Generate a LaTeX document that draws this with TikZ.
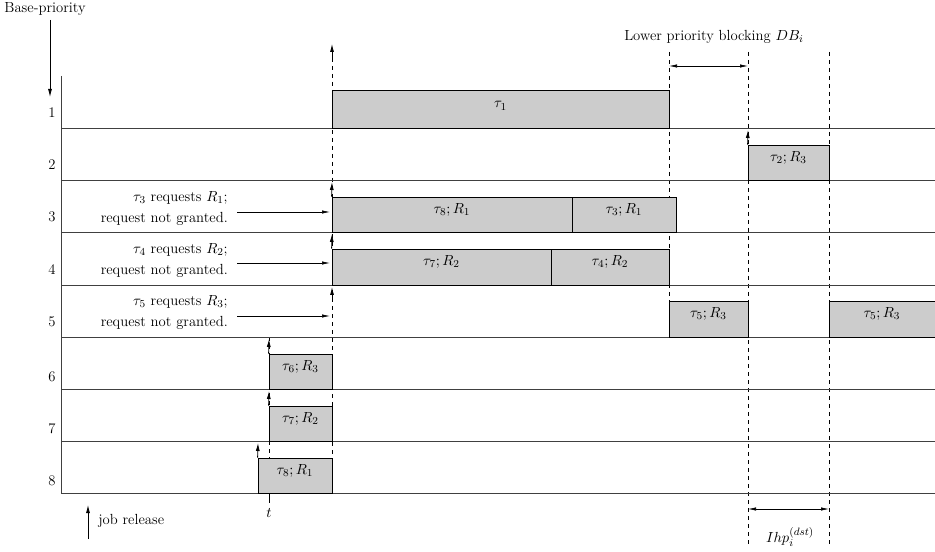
\documentclass[tikz,border=0pt]{standalone}
\usetikzlibrary{arrows.meta,fit}
\begin{document}
\begin{tikzpicture}[x=0.75pt,y=-0.75pt,
 every node/.style={font=\fontsize{11}{13}\selectfont},
 rowline/.style={black!75, line width=0.7pt},
 tbox/.style={draw=black, fill=gray!40, line width=0.6pt, inner sep=0pt},
 rel/.style={-{Latex[length=6pt,width=3pt]}, line width=0.6pt},
 dsh/.style={dash pattern=on 3pt off 3pt, line width=0.5pt},
 req/.style={-{Latex[length=6pt,width=2.5pt]}, line width=0.5pt},
 dbl/.style={{Latex[length=6pt,width=2.5pt]}-{Latex[length=6pt,width=2.5pt]}, line width=0.5pt},
 txt/.style={inner sep=0pt}]
\useasboundingbox (0,0) rectangle (935,552);

% dashed time markers
\coordinate (d1t) at (332,58);  \coordinate (d1b) at (332,493);
\coordinate (d2t) at (669,52);  \coordinate (d2b) at (669,337);
\coordinate (d3t) at (748,52);  \coordinate (d3b) at (748,545);
\coordinate (d4t) at (829,52);  \coordinate (d4b) at (829,545);
\coordinate (d5t) at (269,337); \coordinate (d5b) at (269,493);
\draw[dsh] (d1t) -- (d1b);
\draw[dsh] (d2t) -- (d2b);
\draw[dsh] (d3t) -- (d3b);
\draw[dsh] (d4t) -- (d4b);
\draw[dsh] (d5t) -- (d5b);

% axis and row lines
\draw[rowline] (61,76) -- (61,493);
\foreach \y in {128,180,232,285,337,389,441,493}
  \draw[rowline] (61,\y) -- (935,\y);

% row numbers
\foreach \n/\y in {1/113,2/165,3/217,4/270,5/322,6/377,7/429,8/481}
  \node[txt] (p\n) at (52,\y) {\n};

% boxes
\node[tbox, fit={(332,90)(669,128)}] (b1) {$\tau_1$};
\node[tbox, fit={(748,145)(829,180)}] (b2) {$\tau_2;R_3$};
\node[tbox, fit={(332,197)(572,232)}] (b3a) {$\tau_8;R_1$};
\node[tbox, fit={(572,197)(676,232)}] (b3b) {$\tau_3;R_1$};
\node[tbox, fit={(332,249)(551,285)}] (b4a) {$\tau_7;R_2$};
\node[tbox, fit={(551,249)(669,285)}] (b4b) {$\tau_4;R_2$};
\node[tbox, fit={(669,301)(748,337)}] (b5a) {$\tau_5;R_3$};
\node[tbox, fit={(829,301)(935,337)}] (b5b) {$\tau_5;R_3$};
\node[tbox, fit={(269,354)(332,389)}] (b6) {$\tau_6;R_3$};
\node[tbox, fit={(269,406)(332,441)}] (b7) {$\tau_7;R_2$};
\node[tbox, fit={(258,458)(332,493)}] (b8) {$\tau_8;R_1$};

% release arrows
\coordinate (r1) at (332,44);
\coordinate (r1s) at (332,62);
\draw[rel] (r1s) -- (r1);
\coordinate (r3) at (332,182); \draw[rel] (b3a.north west) -- (r3);
\coordinate (r4) at (332,234); \draw[rel] (b4a.north west) -- (r4);
\coordinate (r5s) at (332,301); \coordinate (r5) at (332,287); \draw[rel] (r5s) -- (r5);
\coordinate (r2) at (748,130); \draw[rel] (b2.north west) -- (r2);
\coordinate (r6) at (269,339); \draw[rel] (b6.north west) -- (r6);
\coordinate (r7) at (269,391); \draw[rel] (b7.north west) -- (r7);
\coordinate (r8) at (258,443); \draw[rel] (b8.north west) -- (r8);

% request texts and arrows
\node[txt, anchor=east] (q3a) at (228,198) {$\tau_3$ requests $R_1$;};
\node[txt, anchor=east] (q3b) at (228,219) {request not granted.};
\node[txt, anchor=east] (q4a) at (228,250) {$\tau_4$ requests $R_2$;};
\node[txt, anchor=east] (q4b) at (228,271) {request not granted.};
\node[txt, anchor=east] (q5a) at (228,302) {$\tau_5$ requests $R_3$;};
\node[txt, anchor=east] (q5b) at (228,323) {request not granted.};
\coordinate (a3) at (237,212); \coordinate (a3e) at (330,212);
\coordinate (a4) at (237,263); \coordinate (a4e) at (330,263);
\coordinate (a5) at (237,316); \coordinate (a5e) at (330,316);
\draw[req] (a3) -- (a3e);
\draw[req] (a4) -- (a4e);
\draw[req] (a5) -- (a5e);

% base priority
\node[txt] (bp) at (45,9) {Base-priority};
\coordinate (bps) at (50,20);
\coordinate (bpe) at (50,97);
\draw[rel] (bps) -- (bpe);

% lower priority blocking
\node[txt] (lpb) at (714,37) {Lower priority blocking $DB_i$};
\coordinate (lb1) at (669,66); \coordinate (lb2) at (748,66);
\draw[dbl] (lb1) -- (lb2);

% interference
\coordinate (ih1) at (748,509); \coordinate (ih2) at (829,509);
\draw[dbl] (ih1) -- (ih2);
\node[txt] (ihp) at (790,537) {$Ihp_i^{(dst)}$};

% t marker
\draw[line width=0.5pt] (269,493) -- (269,503);
\node[txt] (tt) at (269,513) {$t$};

% legend
\coordinate (jr1) at (88,539); \coordinate (jr2) at (88,505);
\draw[rel] (jr1) -- (jr2);
\node[txt, anchor=west] (jr) at (98,521) {job release};
\end{tikzpicture}
\end{document}
